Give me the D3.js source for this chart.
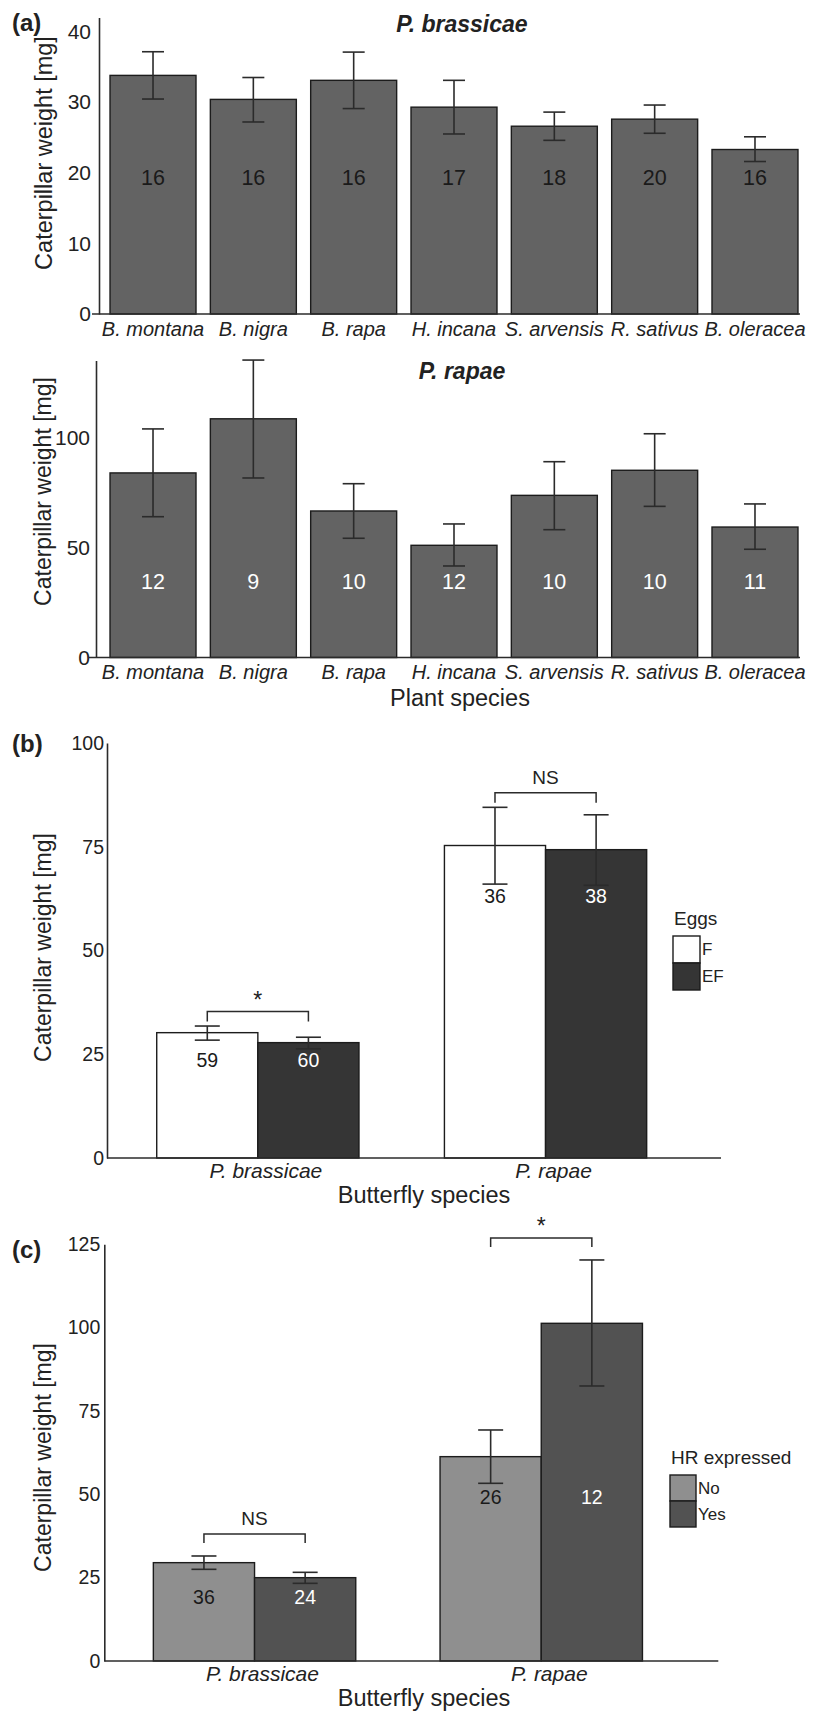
<!DOCTYPE html>
<html>
<head>
<meta charset="utf-8">
<script src="https://cdn.jsdelivr.net/npm/d3@7"></script>
<style>
  body { margin: 0; background: #fff; }
  svg { display: block; font-family: "Liberation Sans", Arial, sans-serif; }
</style>
</head>
<body>
<div id="chart"></div>
<script>
// (a) caterpillar weight per plant species
const plantSpecies = ["B. montana", "B. nigra", "B. rapa", "H. incana", "S. arvensis", "R. sativus", "B. oleracea"];
const brassicaeWeight = [33.8, 30.4, 33.1, 29.3, 26.6, 27.6, 23.3];
const brassicaeUpper  = [37.15, 33.5, 37.1, 33.1, 28.6, 29.6, 25.1];
const brassicaeLower  = [30.45, 27.2, 29.1, 25.5, 24.6, 25.6, 21.6];
const brassicaeN      = [16, 16, 16, 17, 18, 20, 16];

const rapaeWeight = [83.9, 108.5, 66.6, 51.0, 73.7, 85.1, 59.3];
const rapaeUpper  = [103.9, 135.2, 79.0, 60.7, 89.0, 101.7, 69.8];
const rapaeLower  = [64.0, 81.6, 54.2, 41.6, 58.1, 68.7, 49.2];
const rapaeN      = [12, 9, 10, 12, 10, 10, 11];

// (b) egg treatment
const butterflies = ["P. brassicae", "P. rapae"];
const eggTypes = ["F", "EF"];
const eggWeight = { F: [30.2, 75.3], EF: [27.8, 74.3] };
const eggUpper  = { F: [31.8, 84.5], EF: [29.1, 82.7] };
const eggLower  = { F: [28.4, 66.0], EF: [26.3, 65.7] };
const eggN      = { F: [59, 36], EF: [60, 38] };
const eggSig    = ["*", "NS"];

// (c) HR expressed
const hrTypes = ["No", "Yes"];
const hrWeight = { No: [29.5, 61.3], Yes: [25.0, 101.3] };
const hrUpper  = { No: [31.5, 69.3], Yes: [26.6, 120.3] };
const hrLower  = { No: [27.5, 53.3], Yes: [23.3, 82.5] };
const hrN      = { No: [36, 26], Yes: [24, 12] };
const hrSig    = ["NS", "*"];

const ink = "#222";
const lineCol = "#2b2b2b";

const svg = d3.select("#chart").append("svg")
    .attr("width", 819)
    .attr("height", 1712);

svg.append("rect").attr("width", 819).attr("height", 1712).attr("fill", "#fff");

function panelLetter(txt, x, y) {
    svg.append("text")
        .attr("x", x).attr("y", y)
        .attr("font-size", "24px").attr("font-weight", "bold")
        .attr("fill", ink)
        .text(txt);
}

function yTitle(cx, cy, size) {
    svg.append("text")
        .attr("transform", `translate(${cx},${cy}) rotate(-90)`)
        .attr("text-anchor", "middle")
        .attr("dominant-baseline", "central")
        .attr("font-size", size + "px")
        .attr("fill", ink)
        .text("Caterpillar weight [mg]");
}

function yAxis(y, axisX, ticks, pad, size) {
    const ax = svg.append("g")
        .attr("transform", `translate(${axisX},0)`)
        .call(d3.axisLeft(y).tickValues(ticks).tickSize(0).tickSizeOuter(0).tickPadding(pad));
    ax.attr("font-family", null).attr("font-size", null);
    ax.select(".domain").attr("stroke", lineCol).attr("stroke-width", 1.6);
    ax.selectAll("text").attr("font-size", size + "px").attr("fill", ink);
}

function errorBar(g, cx, yHi, yLo, capW) {
    g.append("line")
        .attr("x1", cx).attr("x2", cx).attr("y1", yHi).attr("y2", yLo)
        .attr("stroke", lineCol).attr("stroke-width", 1.6);
    [yHi, yLo].forEach(yy => {
        g.append("line")
            .attr("x1", cx - capW / 2).attr("x2", cx + capW / 2)
            .attr("y1", yy).attr("y2", yy)
            .attr("stroke", lineCol).attr("stroke-width", 1.6);
    });
}

// ---------- panel (a) ----------
function plantPanel(opt) {
    const x = d3.scaleBand().domain(plantSpecies).range([103, 805]).paddingInner(0.143).paddingOuter(0.07);
    const y = d3.scaleLinear().domain([0, opt.yMax]).range([opt.base, opt.top]);
    const g = svg.append("g");
    const rows = plantSpecies.map((s, i) => ({ s, w: opt.w[i], hi: opt.hi[i], lo: opt.lo[i], n: opt.n[i] }));

    g.selectAll("rect.bar")
        .data(rows)
        .join("rect")
        .attr("class", "bar")
        .attr("x", d => x(d.s))
        .attr("y", d => y(d.w))
        .attr("width", x.bandwidth())
        .attr("height", d => y(0) - y(d.w))
        .attr("fill", "#636363")
        .attr("stroke", "#1c1c1c")
        .attr("stroke-width", 1.4);

    rows.forEach(d => errorBar(g, x(d.s) + x.bandwidth() / 2, y(d.hi), y(d.lo), 22));

    const labelY = d3.max(rows, d => y(d.lo)) + 16;
    g.selectAll("text.n")
        .data(rows)
        .join("text")
        .attr("class", "n")
        .attr("x", d => x(d.s) + x.bandwidth() / 2)
        .attr("y", labelY)
        .attr("text-anchor", "middle")
        .attr("dominant-baseline", "central")
        .attr("font-size", "21.5px")
        .attr("fill", opt.nFill)
        .text(d => d.n);

    yAxis(y, opt.axisX, opt.ticks, opt.tickPad, 21);

    svg.append("line")
        .attr("x1", opt.axisX - 7).attr("x2", 800)
        .attr("y1", y(0)).attr("y2", y(0))
        .attr("stroke", lineCol).attr("stroke-width", 1.6);

    svg.selectAll(null)
        .data(plantSpecies)
        .join("text")
        .attr("x", d => x(d) + x.bandwidth() / 2)
        .attr("y", y(0) + 21.5)
        .attr("text-anchor", "middle")
        .attr("font-size", "20px")
        .attr("font-style", "italic")
        .attr("fill", ink)
        .text(d => d);

    svg.append("text")
        .attr("x", 462).attr("y", opt.titleY)
        .attr("text-anchor", "middle")
        .attr("font-size", "23px")
        .attr("font-weight", "bold")
        .attr("font-style", "italic")
        .attr("fill", ink)
        .text(opt.title);
}

panelLetter("(a)", 12, 31);
plantPanel({
    title: "P. brassicae", titleY: 32,
    w: brassicaeWeight, hi: brassicaeUpper, lo: brassicaeLower, n: brassicaeN,
    yMax: 42, base: 314, top: 17.5, ticks: [0, 10, 20, 30, 40],
    axisX: 99, tickPad: 8, nFill: "#1a1a1a"
});
yTitle(44, 153, 23.5);

plantPanel({
    title: "P. rapae", titleY: 379,
    w: rapaeWeight, hi: rapaeUpper, lo: rapaeLower, n: rapaeN,
    yMax: 135, base: 657.5, top: 360.5, ticks: [0, 50, 100],
    axisX: 96, tickPad: 6, nFill: "#ffffff"
});
yTitle(43, 491.5, 23);

svg.append("text")
    .attr("x", 460).attr("y", 706)
    .attr("text-anchor", "middle")
    .attr("font-size", "23.5px")
    .attr("fill", ink)
    .text("Plant species");

// ---------- panels (b) and (c) ----------
function groupPanel(opt) {
    const x0 = d3.scaleBand().domain(butterflies).range(opt.range).paddingInner(opt.padIn).paddingOuter(opt.padIn / 2);
    const x1 = d3.scaleBand().domain(opt.keys).range([0, x0.bandwidth()]);
    const y = d3.scaleLinear().domain([0, opt.yMax]).range([opt.base, opt.top]);
    const g = svg.append("g");

    const rows = [];
    butterflies.forEach((b, i) => {
        opt.keys.forEach(k => {
            rows.push({ b, k, w: opt.w[k][i], hi: opt.hi[k][i], lo: opt.lo[k][i], n: opt.n[k][i] });
        });
    });

    g.selectAll("rect.bar")
        .data(rows)
        .join("rect")
        .attr("class", "bar")
        .attr("x", d => x0(d.b) + x1(d.k))
        .attr("y", d => y(d.w))
        .attr("width", x1.bandwidth())
        .attr("height", d => y(0) - y(d.w))
        .attr("fill", d => opt.fill[d.k])
        .attr("stroke", "#1c1c1c")
        .attr("stroke-width", 1.4);

    const cx = d => x0(d.b) + x1(d.k) + x1.bandwidth() / 2;
    rows.forEach(d => errorBar(g, cx(d), y(d.hi), y(d.lo), 25));

    butterflies.forEach((b, i) => {
        const grp = rows.filter(d => d.b === b);
        const labelY = d3.max(grp, d => y(d.lo)) + opt.nGap;
        grp.forEach(d => {
            g.append("text")
                .attr("x", cx(d)).attr("y", labelY)
                .attr("text-anchor", "middle")
                .attr("dominant-baseline", "central")
                .attr("font-size", "19.5px")
                .attr("fill", opt.nFill[d.k])
                .text(d.n);
        });

        // significance bracket
        const by = d3.min(grp, d => y(d.hi)) - opt.brGap;
        const xa = cx(grp[0]), xb = cx(grp[1]);
        g.append("path")
            .attr("d", `M${xa},${by + opt.brTick}V${by}H${xb}V${by + opt.brTick}`)
            .attr("fill", "none")
            .attr("stroke", lineCol)
            .attr("stroke-width", 1.5);
        const s = opt.sig[i];
        g.append("text")
            .attr("x", (xa + xb) / 2)
            .attr("y", s === "*" ? by - 3.5 : by - 8.5)
            .attr("text-anchor", "middle")
            .attr("font-size", s === "*" ? "23px" : "19px")
            .attr("fill", ink)
            .text(s);
    });

    yAxis(y, opt.axisX, opt.ticks, opt.tickPad, 19.5);

    svg.append("line")
        .attr("x1", opt.axisX).attr("x2", opt.xEnd)
        .attr("y1", y(0)).attr("y2", y(0))
        .attr("stroke", lineCol).attr("stroke-width", 1.6);

    svg.selectAll(null)
        .data(butterflies)
        .join("text")
        .attr("x", d => x0(d) + x0.bandwidth() / 2 + 8)
        .attr("y", y(0) + 20)
        .attr("text-anchor", "middle")
        .attr("font-size", "21px")
        .attr("font-style", "italic")
        .attr("fill", ink)
        .text(d => d);

    svg.append("text")
        .attr("x", 424).attr("y", y(0) + 45)
        .attr("text-anchor", "middle")
        .attr("font-size", "23.5px")
        .attr("fill", ink)
        .text("Butterfly species");

    // legend
    const lg = svg.append("g").attr("transform", `translate(${opt.legX},${opt.legY})`);
    lg.append("text")
        .attr("x", 1).attr("y", 0)
        .attr("font-size", "19px")
        .attr("fill", ink)
        .text(opt.legTitle);
    opt.keys.forEach((k, i) => {
        lg.append("rect")
            .attr("x", 0).attr("y", 11 + i * opt.box)
            .attr("width", opt.box).attr("height", opt.box)
            .attr("fill", opt.fill[k])
            .attr("stroke", "#1c1c1c")
            .attr("stroke-width", 1.4);
        lg.append("text")
            .attr("x", opt.box + 2).attr("y", 11 + i * opt.box + opt.box / 2)
            .attr("dominant-baseline", "central")
            .attr("font-size", "17px")
            .attr("fill", ink)
            .text(k);
    });
}

panelLetter("(b)", 12, 752);
groupPanel({
    keys: eggTypes, w: eggWeight, hi: eggUpper, lo: eggLower, n: eggN, sig: eggSig,
    fill: { F: "#ffffff", EF: "#353535" }, nFill: { F: "#1a1a1a", EF: "#ffffff" },
    range: [114, 689.4], padIn: 0.297,
    yMax: 100, base: 1158, top: 743, ticks: [0, 25, 50, 75, 100],
    axisX: 107, xEnd: 721, tickPad: 3,
    nGap: 11, brGap: 14.5, brTick: 10,
    legTitle: "Eggs", legX: 673, legY: 925, box: 27
});
yTitle(43, 947.5, 23);

panelLetter("(c)", 12, 1258);
groupPanel({
    keys: hrTypes, w: hrWeight, hi: hrUpper, lo: hrLower, n: hrN, sig: hrSig,
    fill: { No: "#8f8f8f", Yes: "#525252" }, nFill: { No: "#1a1a1a", Yes: "#ffffff" },
    range: [111.2, 684.6], padIn: 0.294,
    yMax: 125, base: 1661, top: 1244.3, ticks: [0, 25, 50, 75, 100, 125],
    axisX: 104.3, xEnd: 718.3, tickPad: 4,
    nGap: 13.5, brGap: 22, brTick: 9,
    legTitle: "HR expressed", legX: 670, legY: 1464, box: 26
});
yTitle(43, 1457.5, 23);
</script>
</body>
</html>
